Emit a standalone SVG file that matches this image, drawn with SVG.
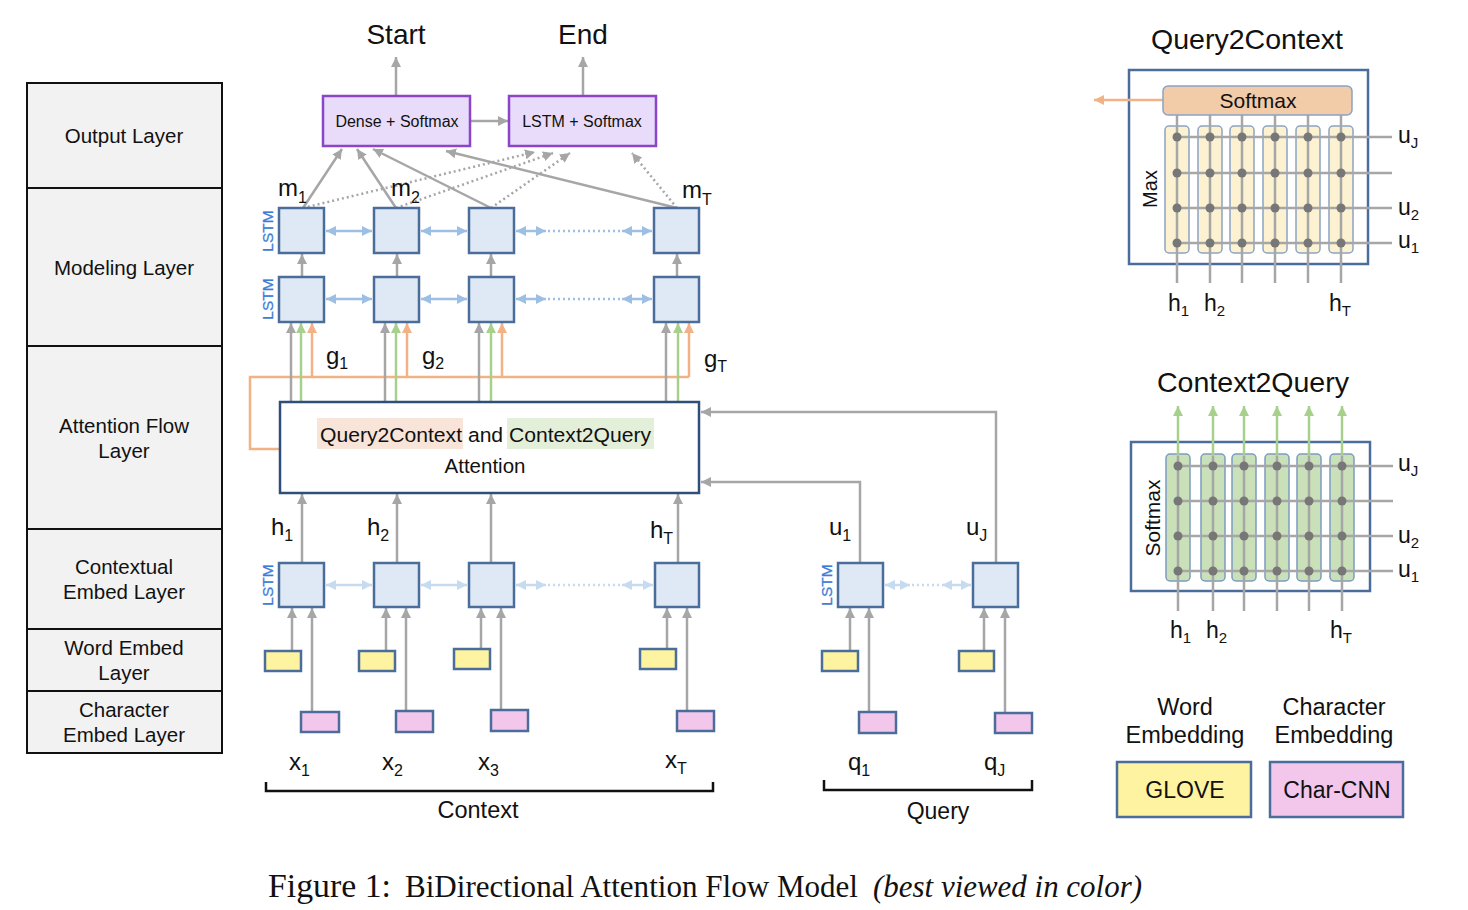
<svg xmlns="http://www.w3.org/2000/svg" width="1468" height="910" viewBox="0 0 1468 910">
<style>
text{font-family:"Liberation Sans",Arial,sans-serif;fill:#111}
.lay{fill:#f2f2f2;stroke:#111;stroke-width:2}
.layt{font-size:20.5px;text-anchor:middle}
.cell{fill:#dfe9f5;stroke:#4a6d9a;stroke-width:2.5}
.yel{fill:#fdf3a0;stroke:#4a6d9a;stroke-width:2.5}
.pnk{fill:#f3c6ec;stroke:#4a6d9a;stroke-width:2.5}
.gl{stroke:#a6a6a6;stroke-width:2.5;fill:none}
.gd{stroke:#a6a6a6;stroke-width:2.5;fill:none;stroke-dasharray:2 3}
.grn{stroke:#a8d08d;stroke-width:2.5;fill:none}
.org{stroke:#f2b285;stroke-width:2.5;fill:none}
.bl{stroke:#9dbfe4;stroke-width:2.5;fill:none}
.bld{stroke:#9dbfe4;stroke-width:2.5;fill:none;stroke-dasharray:2 3}
.bl2{stroke:#c6daf0;stroke-width:2.5;fill:none}
.bl2d{stroke:#c6daf0;stroke-width:2.5;fill:none;stroke-dasharray:2 3}
.lstm{font-size:15.5px;fill:#3b7dd8;text-anchor:middle;stroke:#3b7dd8;stroke-width:0.3}
.lbl{font-size:24px}
.sub{font-size:16px}
.big{font-size:28px;text-anchor:middle}
.outb{fill:#e9dcfa;stroke:#8a45c8;stroke-width:2.5}
.outt{font-size:16px;text-anchor:middle}
.panel{fill:#fff;stroke:#4a6d9a;stroke-width:2.5}
.ycol{fill:#fcf1d0;stroke:#8aa4c4;stroke-width:1.5}
.gcol{fill:#c9e0b8;stroke:#7b9cc0;stroke-width:1.5}
.grid{stroke:#a6a6a6;stroke-width:2.5;fill:none}
.dot{fill:#777}
.plbl{font-size:23px}
.psub{font-size:15px}
.leg{font-size:23.5px;text-anchor:middle}
.cap{font-family:"Liberation Serif","Times New Roman",serif}
</style>
<defs>
<marker id="ag" markerUnits="userSpaceOnUse" markerWidth="12" markerHeight="12" refX="10" refY="5" orient="auto"><path d="M0,0 L10,5 L0,10 z" fill="#a6a6a6"/></marker>
<marker id="agr" markerUnits="userSpaceOnUse" markerWidth="12" markerHeight="12" refX="10" refY="5" orient="auto"><path d="M0,0 L10,5 L0,10 z" fill="#a8d08d"/></marker>
<marker id="ao" markerUnits="userSpaceOnUse" markerWidth="12" markerHeight="12" refX="10" refY="5" orient="auto"><path d="M0,0 L10,5 L0,10 z" fill="#f2b285"/></marker>
<marker id="ab" markerUnits="userSpaceOnUse" markerWidth="12" markerHeight="12" refX="10" refY="5" orient="auto-start-reverse"><path d="M0,0 L10,5 L0,10 z" fill="#9dbfe4"/></marker>
<marker id="ab2" markerUnits="userSpaceOnUse" markerWidth="12" markerHeight="12" refX="10" refY="5" orient="auto-start-reverse"><path d="M0,0 L10,5 L0,10 z" fill="#c6daf0"/></marker>
</defs>
<rect width="1468" height="910" fill="#fff"/>

<!-- Left layer column -->
<g id="layers">
<rect class="lay" x="27" y="83" width="195" height="105"/>
<rect class="lay" x="27" y="188" width="195" height="158"/>
<rect class="lay" x="27" y="346" width="195" height="183"/>
<rect class="lay" x="27" y="529" width="195" height="100"/>
<rect class="lay" x="27" y="629" width="195" height="62"/>
<rect class="lay" x="27" y="691" width="195" height="62"/>
<text class="layt" x="124" y="143">Output Layer</text>
<text class="layt" x="124" y="275">Modeling Layer</text>
<text class="layt" x="124" y="433">Attention Flow</text>
<text class="layt" x="124" y="458">Layer</text>
<text class="layt" x="124" y="574">Contextual</text>
<text class="layt" x="124" y="599">Embed Layer</text>
<text class="layt" x="124" y="655">Word Embed</text>
<text class="layt" x="124" y="680">Layer</text>
<text class="layt" x="124" y="717">Character</text>
<text class="layt" x="124" y="742">Embed Layer</text>
</g>

<!-- Connectors -->
<g id="connectors">
<line class="gl" x1="396" y1="96" x2="396" y2="57" marker-end="url(#ag)"/>
<line class="gl" x1="583" y1="96" x2="583" y2="57" marker-end="url(#ag)"/>
<line class="gl" x1="470" y1="121" x2="508" y2="121" marker-end="url(#ag)"/>
<line class="gl" x1="303" y1="208" x2="342" y2="149" marker-end="url(#ag)"/>
<line class="gl" x1="396" y1="208" x2="357" y2="149" marker-end="url(#ag)"/>
<line class="gl" x1="491" y1="208" x2="373" y2="149" marker-end="url(#ag)"/>
<line class="gl" x1="677" y1="208" x2="446" y2="151" marker-end="url(#ag)"/>
<line class="gd" x1="303" y1="208" x2="535" y2="152" marker-end="url(#ag)"/>
<line class="gd" x1="396" y1="208" x2="553" y2="153" marker-end="url(#ag)"/>
<line class="gd" x1="491" y1="208" x2="570" y2="153" marker-end="url(#ag)"/>
<line class="gd" x1="677" y1="208" x2="632" y2="153" marker-end="url(#ag)"/>
<line class="bl" x1="326" y1="231" x2="372" y2="231" marker-start="url(#ab)" marker-end="url(#ab)"/>
<line class="bl" x1="421" y1="231" x2="467" y2="231" marker-start="url(#ab)" marker-end="url(#ab)"/>
<line class="bl" x1="516" y1="231" x2="546" y2="231" marker-start="url(#ab)" marker-end="url(#ab)"/>
<line class="bld" x1="548" y1="231" x2="620" y2="231"/>
<line class="bl" x1="622" y1="231" x2="652" y2="231" marker-start="url(#ab)" marker-end="url(#ab)"/>
<line class="bl" x1="326" y1="299" x2="372" y2="299" marker-start="url(#ab)" marker-end="url(#ab)"/>
<line class="bl" x1="421" y1="299" x2="467" y2="299" marker-start="url(#ab)" marker-end="url(#ab)"/>
<line class="bl" x1="516" y1="299" x2="546" y2="299" marker-start="url(#ab)" marker-end="url(#ab)"/>
<line class="bld" x1="548" y1="299" x2="620" y2="299"/>
<line class="bl" x1="622" y1="299" x2="652" y2="299" marker-start="url(#ab)" marker-end="url(#ab)"/>
<line class="gl" x1="302" y1="277" x2="302" y2="254" marker-end="url(#ag)"/>
<line class="gl" x1="397" y1="277" x2="397" y2="254" marker-end="url(#ag)"/>
<line class="gl" x1="491" y1="277" x2="491" y2="254" marker-end="url(#ag)"/>
<line class="gl" x1="677" y1="277" x2="677" y2="254" marker-end="url(#ag)"/>
<path class="org" d="M280,449 H250 V377 H689"/>
<line class="gl" x1="291" y1="402" x2="291" y2="323" marker-end="url(#ag)"/>
<line class="grn" x1="301" y1="402" x2="301" y2="323" marker-end="url(#agr)"/>
<line class="org" x1="312" y1="377" x2="312" y2="323" marker-end="url(#ao)"/>
<line class="gl" x1="385" y1="402" x2="385" y2="323" marker-end="url(#ag)"/>
<line class="grn" x1="396" y1="402" x2="396" y2="323" marker-end="url(#agr)"/>
<line class="org" x1="407" y1="377" x2="407" y2="323" marker-end="url(#ao)"/>
<line class="gl" x1="479" y1="402" x2="479" y2="323" marker-end="url(#ag)"/>
<line class="grn" x1="491" y1="402" x2="491" y2="323" marker-end="url(#agr)"/>
<line class="org" x1="502" y1="377" x2="502" y2="323" marker-end="url(#ao)"/>
<line class="gl" x1="666" y1="402" x2="666" y2="323" marker-end="url(#ag)"/>
<line class="grn" x1="678" y1="402" x2="678" y2="323" marker-end="url(#agr)"/>
<line class="org" x1="689" y1="377" x2="689" y2="323" marker-end="url(#ao)"/>
<line class="gl" x1="302" y1="563" x2="302" y2="494" marker-end="url(#ag)"/>
<line class="gl" x1="397" y1="563" x2="397" y2="494" marker-end="url(#ag)"/>
<line class="gl" x1="491" y1="563" x2="491" y2="494" marker-end="url(#ag)"/>
<line class="gl" x1="678" y1="563" x2="678" y2="494" marker-end="url(#ag)"/>
<path class="gl" d="M996,563 V412 H701" marker-end="url(#ag)"/>
<path class="gl" d="M860,563 V482 H701" marker-end="url(#ag)"/>
<line class="bl2" x1="326" y1="585" x2="372" y2="585" marker-start="url(#ab2)" marker-end="url(#ab2)"/>
<line class="bl2" x1="421" y1="585" x2="467" y2="585" marker-start="url(#ab2)" marker-end="url(#ab2)"/>
<line class="bl2" x1="516" y1="585" x2="546" y2="585" marker-start="url(#ab2)" marker-end="url(#ab2)"/>
<line class="bl2d" x1="548" y1="585" x2="620" y2="585"/>
<line class="bl2" x1="622" y1="585" x2="653" y2="585" marker-start="url(#ab2)" marker-end="url(#ab2)"/>
<line class="bl2" x1="885" y1="585" x2="910" y2="585" marker-start="url(#ab2)" marker-end="url(#ab2)"/>
<line class="bl2d" x1="912" y1="585" x2="940" y2="585"/>
<line class="bl2" x1="942" y1="585" x2="971" y2="585" marker-start="url(#ab2)" marker-end="url(#ab2)"/>
<line class="gl" x1="292" y1="651" x2="292" y2="608" marker-end="url(#ag)"/>
<line class="gl" x1="312" y1="712" x2="312" y2="608" marker-end="url(#ag)"/>
<line class="gl" x1="386" y1="651" x2="386" y2="608" marker-end="url(#ag)"/>
<line class="gl" x1="406" y1="711" x2="406" y2="608" marker-end="url(#ag)"/>
<line class="gl" x1="481" y1="649" x2="481" y2="608" marker-end="url(#ag)"/>
<line class="gl" x1="501" y1="710" x2="501" y2="608" marker-end="url(#ag)"/>
<line class="gl" x1="667" y1="649" x2="667" y2="608" marker-end="url(#ag)"/>
<line class="gl" x1="687" y1="711" x2="687" y2="608" marker-end="url(#ag)"/>
<line class="gl" x1="850" y1="650" x2="850" y2="608" marker-end="url(#ag)"/>
<line class="gl" x1="869" y1="712" x2="869" y2="608" marker-end="url(#ag)"/>
<line class="gl" x1="984" y1="651" x2="984" y2="608" marker-end="url(#ag)"/>
<line class="gl" x1="1005" y1="713" x2="1005" y2="608" marker-end="url(#ag)"/>
</g>

<!-- Output nodes -->
<g id="dense-softmax">
<rect class="outb" x="323" y="96" width="147" height="50"/>
<text class="outt" x="397" y="127">Dense + Softmax</text>
</g>
<g id="lstm-softmax">
<rect class="outb" x="509" y="96" width="147" height="50"/>
<text class="outt" x="582" y="127">LSTM + Softmax</text>
</g>
<text class="big" x="396" y="44">Start</text>
<text class="big" x="583" y="44">End</text>

<!-- Modeling layer cells -->
<g id="modeling">
<rect class="cell" x="279" y="208" width="45" height="45"/>
<rect class="cell" x="374" y="208" width="45" height="45"/>
<rect class="cell" x="469" y="208" width="45" height="45"/>
<rect class="cell" x="654" y="208" width="45" height="45"/>
<rect class="cell" x="279" y="277" width="45" height="45"/>
<rect class="cell" x="374" y="277" width="45" height="45"/>
<rect class="cell" x="469" y="277" width="45" height="45"/>
<rect class="cell" x="654" y="277" width="45" height="45"/>
<text class="lstm" transform="translate(272.5,231) rotate(-90)">LSTM</text>
<text class="lstm" transform="translate(272.5,299) rotate(-90)">LSTM</text>
<text class="lbl" x="278" y="196">m<tspan class="sub" dy="7">1</tspan></text>
<text class="lbl" x="391" y="196">m<tspan class="sub" dy="7">2</tspan></text>
<text class="lbl" x="682" y="198">m<tspan class="sub" dy="7">T</tspan></text>
<text class="lbl" x="326" y="364">g<tspan class="sub" dy="5">1</tspan></text>
<text class="lbl" x="422" y="364">g<tspan class="sub" dy="5">2</tspan></text>
<text class="lbl" x="704" y="367">g<tspan class="sub" dy="5">T</tspan></text>
</g>

<!-- Attention -->
<g id="attention">
<rect x="280" y="402" width="419" height="91" fill="#fff" stroke="#2f4f7a" stroke-width="2.5"/>
<rect x="317" y="418" width="146" height="31" fill="#f8e4d8"/>
<rect x="507" y="418" width="147" height="31" fill="#e3efd9"/>
<text x="320" y="442" font-size="20.5" textLength="331" lengthAdjust="spacingAndGlyphs">Query2Context and Context2Query</text>
<text x="485" y="473" font-size="20.5" text-anchor="middle">Attention</text>
</g>

<!-- Contextual layer context -->
<g id="context-encoder">
<rect class="cell" x="279" y="563" width="45" height="44"/>
<rect class="cell" x="374" y="563" width="45" height="44"/>
<rect class="cell" x="469" y="563" width="45" height="44"/>
<rect class="cell" x="655" y="563" width="44" height="44"/>
<text class="lstm" transform="translate(272.5,585) rotate(-90)">LSTM</text>
<text class="lbl" x="271" y="535">h<tspan class="sub" dy="6">1</tspan></text>
<text class="lbl" x="367" y="535">h<tspan class="sub" dy="6">2</tspan></text>
<text class="lbl" x="650" y="538">h<tspan class="sub" dy="6">T</tspan></text>
<rect class="yel" x="265" y="651" width="36" height="20"/>
<rect class="yel" x="359" y="651" width="36" height="20"/>
<rect class="yel" x="454" y="649" width="36" height="20"/>
<rect class="yel" x="640" y="649" width="36" height="20"/>
<rect class="pnk" x="301" y="712" width="38" height="20"/>
<rect class="pnk" x="396" y="711" width="37" height="21"/>
<rect class="pnk" x="491" y="710" width="37" height="21"/>
<rect class="pnk" x="677" y="711" width="37" height="20"/>
<text class="lbl" x="289" y="770">x<tspan class="sub" dy="6">1</tspan></text>
<text class="lbl" x="382" y="770">x<tspan class="sub" dy="6">2</tspan></text>
<text class="lbl" x="478" y="770">x<tspan class="sub" dy="6">3</tspan></text>
<text class="lbl" x="665" y="768">x<tspan class="sub" dy="6">T</tspan></text>
<path d="M266,782 V791 H713 V782" fill="none" stroke="#111" stroke-width="2.5"/>
<text x="478" y="818" font-size="23.5" text-anchor="middle">Context</text>
</g>

<!-- Contextual layer query -->
<g id="query-encoder">
<rect class="cell" x="838" y="563" width="45" height="44"/>
<rect class="cell" x="973" y="563" width="45" height="44"/>
<text class="lstm" transform="translate(831.5,585) rotate(-90)">LSTM</text>
<text class="lbl" x="829" y="535">u<tspan class="sub" dy="6">1</tspan></text>
<text class="lbl" x="966" y="535">u<tspan class="sub" dy="6">J</tspan></text>
<rect class="yel" x="822" y="651" width="36" height="20"/>
<rect class="yel" x="959" y="651" width="35" height="20"/>
<rect class="pnk" x="859" y="712" width="37" height="21"/>
<rect class="pnk" x="995" y="713" width="37" height="20"/>
<text class="lbl" x="848" y="770">q<tspan class="sub" dy="6">1</tspan></text>
<text class="lbl" x="984" y="770">q<tspan class="sub" dy="6">J</tspan></text>
<path d="M824,780 V790 H1032 V780" fill="none" stroke="#111" stroke-width="2.5"/>
<text x="938" y="819" font-size="23" text-anchor="middle">Query</text>
</g>

<!-- Query2Context panel -->
<g id="query2context">
<text class="big" x="1247" y="49" textLength="192" lengthAdjust="spacingAndGlyphs">Query2Context</text>
<rect class="panel" x="1129" y="70" width="239" height="194"/>
<line x1="1163" y1="100" x2="1094" y2="100" stroke="#f2b285" stroke-width="2.5" marker-end="url(#ao)"/>
<g class="ycol">
<rect x="1165" y="126" width="24" height="127" rx="4"/>
<rect x="1198" y="126" width="24" height="127" rx="4"/>
<rect x="1230" y="126" width="24" height="127" rx="4"/>
<rect x="1263" y="126" width="24" height="127" rx="4"/>
<rect x="1296" y="126" width="24" height="127" rx="4"/>
<rect x="1329" y="126" width="24" height="127" rx="4"/>
</g>
<path class="grid" d="M1177,115 V283 M1210,115 V283 M1242,115 V283 M1275,115 V283 M1308,115 V283 M1341,115 V283 M1177,137 H1392 M1177,173 H1392 M1177,208 H1392 M1177,243 H1392"/>
<rect x="1163" y="86" width="189" height="29" rx="5" fill="#f2cba9" stroke="#8aa4c4" stroke-width="1.5"/>
<text x="1258" y="108" font-size="21" text-anchor="middle" fill="#555">Softmax</text>
<g class="dot">
<circle cx="1177" cy="137" r="4.5"/><circle cx="1210" cy="137" r="4.5"/><circle cx="1242" cy="137" r="4.5"/><circle cx="1275" cy="137" r="4.5"/><circle cx="1308" cy="137" r="4.5"/><circle cx="1341" cy="137" r="4.5"/>
<circle cx="1177" cy="173" r="4.5"/><circle cx="1210" cy="173" r="4.5"/><circle cx="1242" cy="173" r="4.5"/><circle cx="1275" cy="173" r="4.5"/><circle cx="1308" cy="173" r="4.5"/><circle cx="1341" cy="173" r="4.5"/>
<circle cx="1177" cy="208" r="4.5"/><circle cx="1210" cy="208" r="4.5"/><circle cx="1242" cy="208" r="4.5"/><circle cx="1275" cy="208" r="4.5"/><circle cx="1308" cy="208" r="4.5"/><circle cx="1341" cy="208" r="4.5"/>
<circle cx="1177" cy="243" r="4.5"/><circle cx="1210" cy="243" r="4.5"/><circle cx="1242" cy="243" r="4.5"/><circle cx="1275" cy="243" r="4.5"/><circle cx="1308" cy="243" r="4.5"/><circle cx="1341" cy="243" r="4.5"/>
</g>
<text transform="translate(1157,189) rotate(-90)" font-size="20" text-anchor="middle" fill="#777">Max</text>
<text class="plbl" x="1398" y="143">u<tspan class="psub" dy="5">J</tspan></text>
<text class="plbl" x="1398" y="215">u<tspan class="psub" dy="5">2</tspan></text>
<text class="plbl" x="1398" y="248">u<tspan class="psub" dy="5">1</tspan></text>
<text class="plbl" x="1168" y="311">h<tspan class="psub" dy="5">1</tspan></text>
<text class="plbl" x="1204" y="311">h<tspan class="psub" dy="5">2</tspan></text>
<text class="plbl" x="1329" y="311">h<tspan class="psub" dy="5">T</tspan></text>
</g>

<!-- Context2Query panel -->
<g id="context2query">
<text class="big" x="1253" y="392" textLength="192" lengthAdjust="spacingAndGlyphs">Context2Query</text>
<rect class="panel" x="1131" y="442" width="239" height="149"/>
<g class="gcol">
<rect x="1166" y="454" width="24" height="127" rx="4"/>
<rect x="1201" y="454" width="24" height="127" rx="4"/>
<rect x="1232" y="454" width="24" height="127" rx="4"/>
<rect x="1265" y="454" width="24" height="127" rx="4"/>
<rect x="1297" y="454" width="24" height="127" rx="4"/>
<rect x="1330" y="454" width="24" height="127" rx="4"/>
</g>
<path class="grid" d="M1178,456 V611 M1213,456 V611 M1244,456 V611 M1277,456 V611 M1309,456 V611 M1342,456 V611 M1178,466 H1393 M1178,501 H1393 M1178,536 H1393 M1178,571 H1393"/>
<g class="grn">
<line x1="1178" y1="456" x2="1178" y2="406" marker-end="url(#agr)"/>
<line x1="1213" y1="456" x2="1213" y2="406" marker-end="url(#agr)"/>
<line x1="1244" y1="456" x2="1244" y2="406" marker-end="url(#agr)"/>
<line x1="1277" y1="456" x2="1277" y2="406" marker-end="url(#agr)"/>
<line x1="1309" y1="456" x2="1309" y2="406" marker-end="url(#agr)"/>
<line x1="1342" y1="456" x2="1342" y2="406" marker-end="url(#agr)"/>
</g>
<g class="dot">
<circle cx="1178" cy="466" r="4.5"/><circle cx="1213" cy="466" r="4.5"/><circle cx="1244" cy="466" r="4.5"/><circle cx="1277" cy="466" r="4.5"/><circle cx="1309" cy="466" r="4.5"/><circle cx="1342" cy="466" r="4.5"/>
<circle cx="1178" cy="501" r="4.5"/><circle cx="1213" cy="501" r="4.5"/><circle cx="1244" cy="501" r="4.5"/><circle cx="1277" cy="501" r="4.5"/><circle cx="1309" cy="501" r="4.5"/><circle cx="1342" cy="501" r="4.5"/>
<circle cx="1178" cy="536" r="4.5"/><circle cx="1213" cy="536" r="4.5"/><circle cx="1244" cy="536" r="4.5"/><circle cx="1277" cy="536" r="4.5"/><circle cx="1309" cy="536" r="4.5"/><circle cx="1342" cy="536" r="4.5"/>
<circle cx="1178" cy="571" r="4.5"/><circle cx="1213" cy="571" r="4.5"/><circle cx="1244" cy="571" r="4.5"/><circle cx="1277" cy="571" r="4.5"/><circle cx="1309" cy="571" r="4.5"/><circle cx="1342" cy="571" r="4.5"/>
</g>
<text transform="translate(1160,518) rotate(-90)" font-size="21" text-anchor="middle" fill="#6a9a4a">Softmax</text>
<text class="plbl" x="1398" y="471">u<tspan class="psub" dy="5">J</tspan></text>
<text class="plbl" x="1398" y="543">u<tspan class="psub" dy="5">2</tspan></text>
<text class="plbl" x="1398" y="577">u<tspan class="psub" dy="5">1</tspan></text>
<text class="plbl" x="1170" y="638">h<tspan class="psub" dy="5">1</tspan></text>
<text class="plbl" x="1206" y="638">h<tspan class="psub" dy="5">2</tspan></text>
<text class="plbl" x="1330" y="638">h<tspan class="psub" dy="5">T</tspan></text>
</g>

<!-- Legend -->
<g id="legend-word">
<text class="leg" x="1185" y="715">Word</text>
<text class="leg" x="1185" y="743">Embedding</text>
<rect class="yel" x="1117" y="762" width="134" height="55"/>
<text x="1185" y="798" font-size="23" text-anchor="middle">GLOVE</text>
</g>
<g id="legend-char">
<text class="leg" x="1334" y="715">Character</text>
<text class="leg" x="1334" y="743">Embedding</text>
<rect class="pnk" x="1270" y="762" width="133" height="55"/>
<text x="1337" y="798" font-size="23" text-anchor="middle">Char-CNN</text>
</g>

<!-- Caption -->
<g id="caption">
<text class="cap" x="268" y="897" font-size="33" textLength="123" lengthAdjust="spacingAndGlyphs">Figure 1:</text>
<text class="cap" x="405" y="897" font-size="31" textLength="453" lengthAdjust="spacingAndGlyphs">BiDirectional Attention Flow Model</text>
<text class="cap" x="873" y="897" font-size="31" font-style="italic" textLength="269" lengthAdjust="spacingAndGlyphs">(best viewed in color)</text>
</g>
</svg>
